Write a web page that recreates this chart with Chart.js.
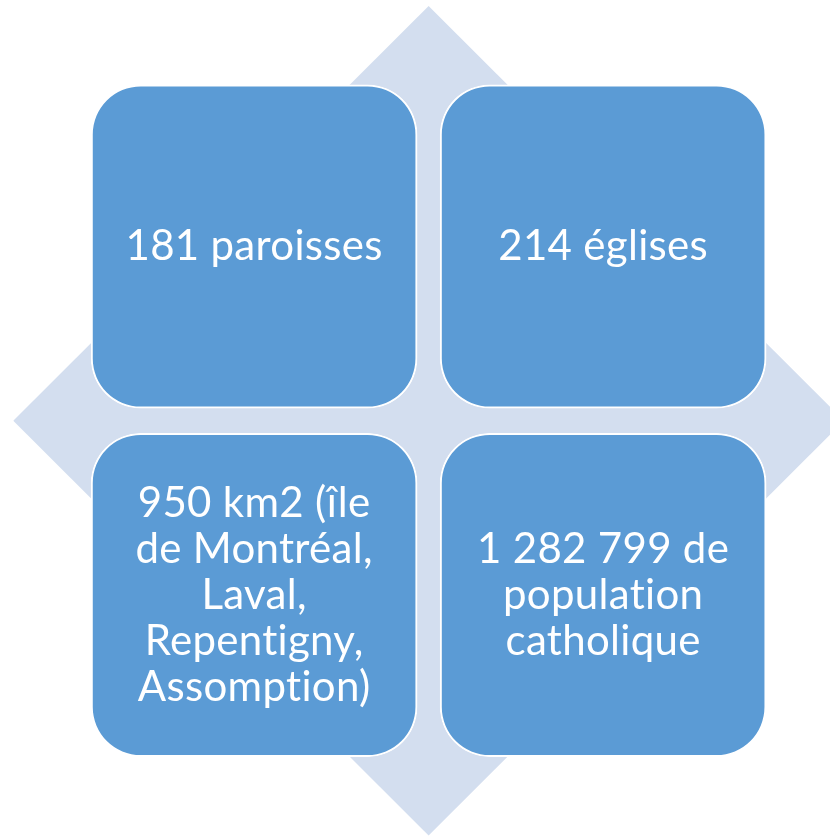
<!DOCTYPE html>
<html>
<head>
<meta charset="utf-8">
<script src="https://cdn.jsdelivr.net/npm/chart.js@4/dist/chart.umd.min.js"></script>
<style>
  html, body { margin: 0; padding: 0; background: #ffffff; }
  #wrap { width: 830px; height: 837px; }
</style>
</head>
<body>
<div id="wrap"><canvas id="diagram" width="830" height="837"></canvas></div>
<script>
/* ======== DATA ======== */
// one entry per box, lines as they wrap in the picture
const boxTexts = [
    ["181 paroisses"],
    ["214 églises"],
    ["950 km2 (île", "de Montréal,", "Laval,", "Repentigny,", "Assomption)"],
    ["1 282 799 de", "population", "catholique"]
]
const boxCols = [0, 1, 0, 1]
const boxRows = [0, 0, 1, 1]

// background diamond, in grid units (its centre sits between the four boxes)
const diamondX = [-0.69, 0.5, 1.69]
const diamondTop = [0.5, -0.69, 0.5]
const diamondBottom = [0.5, 1.69, 0.5]

/* ======== HELPERS ======== */
const cellHalf = 0.464
const boxData = boxCols.map((c, i) => ({x: c, y: [boxRows[i] - cellHalf, boxRows[i] + cellHalf]}))
const upperEdge = diamondX.map((x, i) => ({x: x, y: diamondTop[i]}))
const lowerEdge = diamondX.map((x, i) => ({x: x, y: diamondBottom[i]}))

/* draws the wrapped text in the middle of each box */
const boxTextPlugin = {
    id: 'boxText',
    afterDatasetsDraw(chart) {
        const meta = chart.getDatasetMeta(2)
        const ctx = chart.ctx
        const lineHeight = 46
        ctx.save()
        ctx.fillStyle = '#ffffff'
        ctx.font = '42px Lato, "Open Sans", sans-serif'
        ctx.letterSpacing = '0.3px' // also stops the "ti" ligature
        ctx.textAlign = 'center'
        ctx.textBaseline = 'middle'
        meta.data.forEach((bar, i) => {
            const lines = boxTexts[i]
            const cy = (bar.y + bar.base) / 2
            const top = cy - (lines.length - 1) * lineHeight / 2
            lines.forEach((line, j) => {
                ctx.fillText(line, bar.x, top + j * lineHeight)
            })
        })
        ctx.restore()
    }
}

/* ======== CHART ======== */
const ctx = document.getElementById("diagram").getContext("2d");
const diagram = new Chart(ctx, {
    type: 'bar',
    data: {
        datasets: [{
            type: 'line',
            data: upperEdge,
            borderWidth: 0,
            pointRadius: 0,
            fill: false,
            order: 3
        }, {
            type: 'line',
            data: lowerEdge,
            borderWidth: 0,
            pointRadius: 0,
            backgroundColor: '#D3DEEF',
            fill: '-1',
            order: 2
        }, {
            type: 'bar',
            data: boxData,
            backgroundColor: '#5B9BD5',
            borderColor: '#ffffff',
            borderWidth: 2,
            borderRadius: 50,
            borderSkipped: false,
            barThickness: 326,
            order: 1
        }]
    },
    options: {
        responsive: false,
        animation: false,
        events: [],
        layout: { padding: 0 },
        scales: {
            x: {
                type: 'linear',
                display: false,
                offset: false,
                min: -0.728,
                max: 1.650
            },
            y: {
                type: 'linear',
                display: false,
                reverse: true,
                beginAtZero: false,
                min: -0.7073,
                max: 1.6944
            }
        },
        plugins: {
            legend: { display: false },
            tooltip: { enabled: false }
        }
    },
    plugins: [boxTextPlugin]
});
</script>
</body>
</html>
